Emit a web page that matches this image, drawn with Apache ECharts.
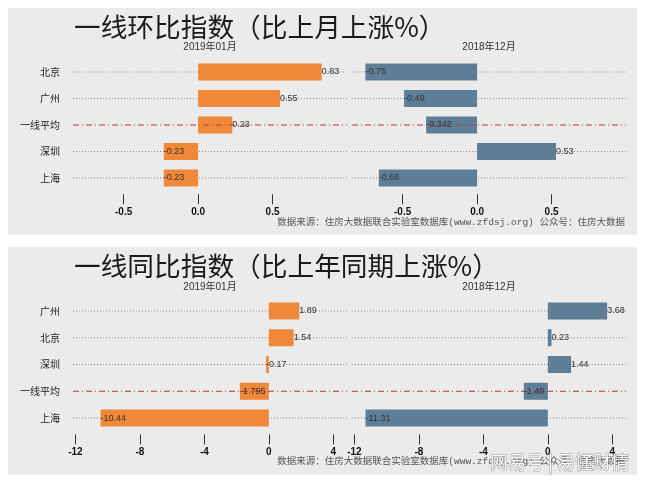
<!DOCTYPE html>
<html>
<head>
<meta charset="utf-8">
<script src="https://cdn.jsdelivr.net/npm/echarts@6/dist/echarts.min.js"></script>
<style>html,body{margin:0;padding:0;background:#fff;}#c{width:650px;height:482px;}</style>
</head>
<body>
<div id="c"></div>
<script>
// ---- data ----
const catsMoM = ['北京', '广州', '一线平均', '深圳', '上海'];
const momJan = [0.83, 0.55, 0.23, -0.23, -0.23];
const momDec = [-0.75, -0.49, -0.342, 0.53, -0.66];
const catsYoY = ['广州', '北京', '深圳', '一线平均', '上海'];
const yoyJan = [1.89, 1.54, -0.17, -1.795, -10.44];
const yoyDec = [3.68, 0.23, 1.44, -1.49, -11.31];
const momTicks = [-0.5, 0, 0.5];
const yoyTicks = [-12, -8, -4, 0, 4];
const facetLabels = ['2019年01月', '2018年12月'];
const titleMoM = '一线环比指数（比上月上涨%）';
const titleYoY = '一线同比指数（比上年同期上涨%）';
const sourceText = '数据来源：住房大数据联合实验室数据库(www.zfdsj.org) 公众号：住房大数据';
const watermark = '网易号 | 易懂财情';
const avgName = '一线平均';

// ---- style ----
const ORANGE = '#F0883A';
const BLUE = '#5E7E98';
const PANEL_BG = '#ebebeb';
const CJK = '"Noto Sans CJK SC"';

const panels = [
  { cats: catsMoM, vals: momJan, color: ORANGE, left: 73, top: 58.75, height: 132.5, min: -0.84, max: 1.0, ticks: momTicks, fmt: v => v.toFixed(1), showY: true },
  { cats: catsMoM, vals: momDec, color: BLUE, left: 352, top: 58.75, height: 132.5, min: -0.84, max: 1.0, ticks: momTicks, fmt: v => v.toFixed(1), showY: false },
  { cats: catsYoY, vals: yoyJan, color: ORANGE, left: 73, top: 297.6, height: 133.8, min: -12.15, max: 4.85, ticks: yoyTicks, fmt: v => String(v), showY: true },
  { cats: catsYoY, vals: yoyDec, color: BLUE, left: 352, top: 297.6, height: 133.8, min: -12.15, max: 4.85, ticks: yoyTicks, fmt: v => String(v), showY: false }
];

const grid = [], xAxis = [], yAxis = [], series = [];
panels.forEach((p, gi) => {
  grid.push({ left: p.left, top: p.top, width: 274, height: p.height, containLabel: false });
  xAxis.push({
    type: 'value', gridIndex: gi, min: p.min, max: p.max, offset: 3,
    axisLine: { show: false },
    splitLine: { show: false },
    axisTick: { show: true, length: 10, customValues: p.ticks, lineStyle: { color: '#333', width: 1 } },
    axisLabel: { customValues: p.ticks, formatter: p.fmt, margin: 13, color: '#111', fontSize: 10, fontWeight: 'bold', fontFamily: '"Liberation Sans", Arial, sans-serif' }
  });
  yAxis.push({
    type: 'category', gridIndex: gi, data: p.cats, inverse: true,
    axisLine: { show: false }, axisTick: { show: false }, splitLine: { show: false },
    axisLabel: { show: p.showY, margin: 13, color: '#222', fontSize: 10, fontFamily: CJK }
  });
  const idxData = p.cats.map((c, i) => [0, i]);
  // dotted guide lines (behind bars)
  series.push({
    type: 'custom', xAxisIndex: gi, yAxisIndex: gi, z: 1, silent: true, clip: false,
    data: idxData,
    renderItem: (params, api) => {
      const i = api.value(1);
      if (p.cats[i] === avgName) return null;
      const y = api.coord([p.min, i])[1];
      const x0 = api.coord([p.min, i])[0];
      const x1 = api.coord([p.max, i])[0];
      return { type: 'line', shape: { x1: x0, y1: y, x2: x1, y2: y }, style: { stroke: '#8a8a8a', lineWidth: 1, lineDash: [1, 2] } };
    }
  });
  // bars
  series.push({
    type: 'bar', xAxisIndex: gi, yAxisIndex: gi, z: 2, barWidth: 17,
    data: p.vals, itemStyle: { color: p.color }, silent: true
  });
  // average dash-dot line (on top)
  series.push({
    type: 'custom', xAxisIndex: gi, yAxisIndex: gi, z: 3, silent: true, clip: false,
    data: idxData,
    renderItem: (params, api) => {
      const i = api.value(1);
      if (p.cats[i] !== avgName) return null;
      const y = api.coord([p.min, i])[1];
      const x0 = api.coord([p.min, i])[0];
      const x1 = api.coord([p.max, i])[0];
      return { type: 'line', shape: { x1: x0, y1: y, x2: x1, y2: y }, style: { stroke: '#B23A3A', lineWidth: 1, lineDash: [6, 3, 1, 3] } };
    }
  });
  // value labels
  series.push({
    type: 'custom', xAxisIndex: gi, yAxisIndex: gi, z: 4, silent: true, clip: false,
    data: p.vals.map((v, i) => [v, i]),
    renderItem: (params, api) => {
      const pt = api.coord([api.value(0), api.value(1)]);
      return { type: 'text', x: pt[0], y: pt[1], style: { text: String(p.vals[params.dataIndex]), fill: '#333', font: '9px "Liberation Sans", Arial, sans-serif', align: 'left', verticalAlign: 'middle' } };
    }
  });
});

const graphic = [
  { type: 'rect', z: -10, shape: { x: 8, y: 8, width: 629, height: 227 }, style: { fill: PANEL_BG } },
  { type: 'rect', z: -10, shape: { x: 8, y: 247, width: 629, height: 228 }, style: { fill: PANEL_BG } },
  { type: 'text', x: 74, y: 27, style: { text: titleMoM, font: 'normal 26.7px ' + CJK, fill: '#1a1a1a', align: 'left', verticalAlign: 'middle' } },
  { type: 'text', x: 74, y: 266, style: { text: titleYoY, font: 'normal 26.7px ' + CJK, fill: '#1a1a1a', align: 'left', verticalAlign: 'middle' } },
  { type: 'text', x: 210, y: 47, style: { text: facetLabels[0], font: '10px "Liberation Sans", ' + CJK, fill: '#333', align: 'center', verticalAlign: 'middle' } },
  { type: 'text', x: 489, y: 47, style: { text: facetLabels[1], font: '10px "Liberation Sans", ' + CJK, fill: '#333', align: 'center', verticalAlign: 'middle' } },
  { type: 'text', x: 210, y: 287, style: { text: facetLabels[0], font: '10px "Liberation Sans", ' + CJK, fill: '#333', align: 'center', verticalAlign: 'middle' } },
  { type: 'text', x: 489, y: 287, style: { text: facetLabels[1], font: '10px "Liberation Sans", ' + CJK, fill: '#333', align: 'center', verticalAlign: 'middle' } },
  { type: 'text', x: 625, y: 222, style: { text: sourceText, font: '9.5px "Liberation Mono", ' + CJK, fill: '#555', align: 'right', verticalAlign: 'middle' } },
  { type: 'text', x: 625, y: 461, style: { text: sourceText, font: '9.5px "Liberation Mono", ' + CJK, fill: '#555', align: 'right', verticalAlign: 'middle' } },
  { type: 'text', x: 490, y: 462, z: 100, style: { text: watermark, font: '18px ' + CJK, fill: 'rgba(255,255,255,0.92)', stroke: 'rgba(90,90,90,0.55)', lineWidth: 1, align: 'left', verticalAlign: 'middle' } }
];

const chart = echarts.init(document.getElementById('c'), null, { renderer: 'canvas' });
chart.setOption({
  backgroundColor: '#ffffff',
  animation: false,
  grid, xAxis, yAxis, series, graphic
});
</script>
</body>
</html>
